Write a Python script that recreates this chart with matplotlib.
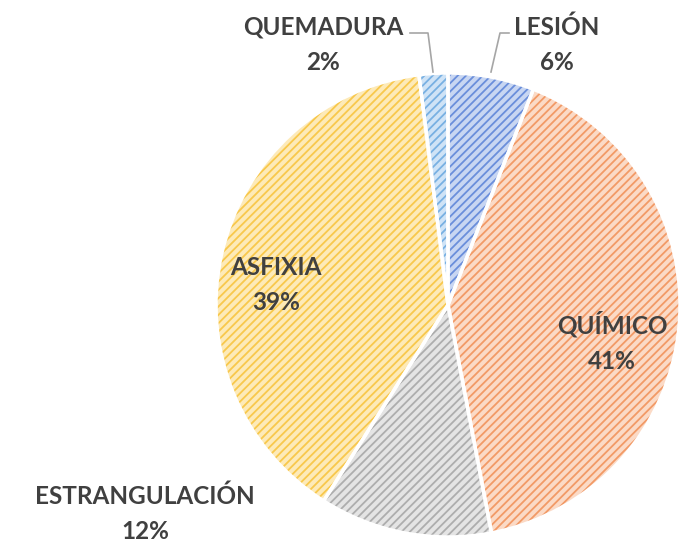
import matplotlib.pyplot as plt

labels = ["LESIÓN", "QUÍMICO", "ESTRANGULACIÓN", "ASFIXIA", "QUEMADURA"]
values = [6, 41, 12, 39, 2]
hatch_colors = ["#6a8edb", "#f29a66", "#adadad", "#f8c84c", "#78b0e2"]
face_colors = ["#c8d6f2", "#fbdac6", "#e4e4e4", "#fdeab8", "#cfe3f6"]

plt.rcParams['font.family'] = ['Lato', 'DejaVu Sans']
plt.rcParams['hatch.linewidth'] = 1.3

fig = plt.figure(figsize=(6.97, 5.42), dpi=100)
ax = fig.add_axes([0, 0, 1, 1])

center = (448, 237)
radius = 232

wedges, _ = ax.pie(values, startangle=90, counterclock=False, colors=face_colors,
                   center=center, radius=radius, explode=[0.012] * len(values),
                   frame=True)
for w, hc in zip(wedges, hatch_colors):
    w.set_hatch('////')
    w.set_edgecolor(hc)
    w.set_linewidth(0)

# white separators on top
ax.pie(values, startangle=90, counterclock=False, center=center,
       radius=radius, explode=[0.012] * len(values), frame=True,
       wedgeprops=dict(fill=False, edgecolor='white', linewidth=2.5))
ax.set_xlim(0, 697)
ax.set_ylim(0, 542)
ax.set_aspect('equal')
ax.axis('off')

txt = dict(fontsize=17.5, fontweight='bold', color='#404040', ha='center', va='center',
           linespacing=1.65)
label_pos = {
    "LESIÓN": (557, 497),
    "QUÍMICO": (612, 200),
    "ESTRANGULACIÓN": (145, 28),
    "ASFIXIA": (276, 257),
    "QUEMADURA": (323, 497),
}
for lab, v in zip(labels, values):
    x, y = label_pos[lab]
    ax.text(x, y, f"{lab}\n{v}%", **txt)

# leader lines
ax.plot([410, 428, 433], [509, 509, 470], color='#a6a6a6', lw=1.2)
ax.plot([509, 500, 491], [509, 509, 470], color='#a6a6a6', lw=1.2)

fig.savefig("out.png", dpi=100)
